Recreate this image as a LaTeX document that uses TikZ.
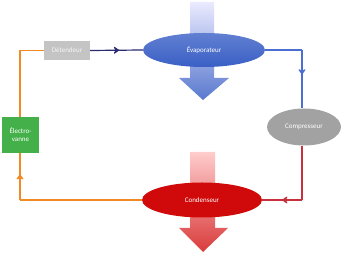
\documentclass[tikz,border=0pt]{standalone}
\usepackage{fontspec}
\setmainfont{Carlito}
\usetikzlibrary{shapes.geometric,arrows.meta,decorations.markings,calc}
\definecolor{navyl}{HTML}{2A2A72}
\definecolor{bluel}{HTML}{4A6FD0}
\definecolor{redl}{HTML}{C8303C}
\definecolor{orangel}{HTML}{F28A24}
\definecolor{grayb}{HTML}{C4C4C4}
\definecolor{greenb}{HTML}{43B049}
\definecolor{evapc}{HTML}{3A60C6}
\definecolor{condc}{HTML}{D00A0A}
\definecolor{compc}{HTML}{A2A2A2}
\tikzset{
  lbl/.style={text=white,font=\fontsize{7}{8.2}\selectfont,align=center},
  ell/.style={ellipse,inner sep=0pt,lbl},
  box/.style={rectangle,inner sep=0pt,lbl},
  conn/.style={line width=1.2pt},
  midtip/.style={postaction={decorate},decoration={markings,mark=at position #1 with {\arrow{Stealth[length=6.5pt,width=9pt,inset=2.4pt,round]}}}}
}
\begin{document}
\begin{tikzpicture}[x=1pt,y=-1pt]
\useasboundingbox (0,0) rectangle (343,253);
% big arrows
\shade[top color=blue!8!white, bottom color=evapc!85!white]
  (190,2) -- (214,2) -- (214,78) -- (229,78) -- (203,100) -- (179,78) -- (190,78) -- cycle;
\shade[top color=red!20!white, bottom color=condc!80!white]
  (190,152) -- (215,152) -- (215,228) -- (228,228) -- (203,252) -- (179,228) -- (190,228) -- cycle;
% nodes
\node[ell,top color=evapc!80!white,bottom color=evapc,minimum width=122pt,minimum height=34pt] (evap) at (204,50) {Évaporateur};
\node[ell,fill=condc,minimum width=120pt,minimum height=35pt] (cond) at (202,200) {Condenseur};
\node[ell,fill=compc,minimum width=74pt,minimum height=37pt] (comp) at (304,127) {Compresseur};
\node[box,fill=grayb,minimum width=46pt,minimum height=19pt,text=white!92!gray] (det) at (67,50.5) {Détendeur};
\node[box,fill=greenb,minimum width=37pt,minimum height=36pt] (ev) at (20.5,135) {Électro-\\vanne};
% connectors
\coordinate (c1) at (302,50);
\coordinate (c2) at (302,200);
\coordinate (c3) at (20,200);
\coordinate (c4) at (20,50.5);
\draw[conn,navyl,midtip=0.55] (det.east) -- (evap.west);
\draw[conn,bluel] (evap.east) -- (c1);
\draw[conn,bluel,midtip=0.42] (c1) -- (comp.north -| c1);
\draw[conn,redl] (comp.south -| c2) -- (c2);
\draw[conn,redl,midtip=0.5] (c2) -- (cond.east);
\draw[conn,orangel] (cond.west) -- (c3);
\draw[conn,orangel,midtip=0.55] (c3) -- (ev.south -| c3);
\draw[conn,orangel] (ev.north -| c4) -- (c4) -- (det.west);
\end{tikzpicture}
\end{document}
